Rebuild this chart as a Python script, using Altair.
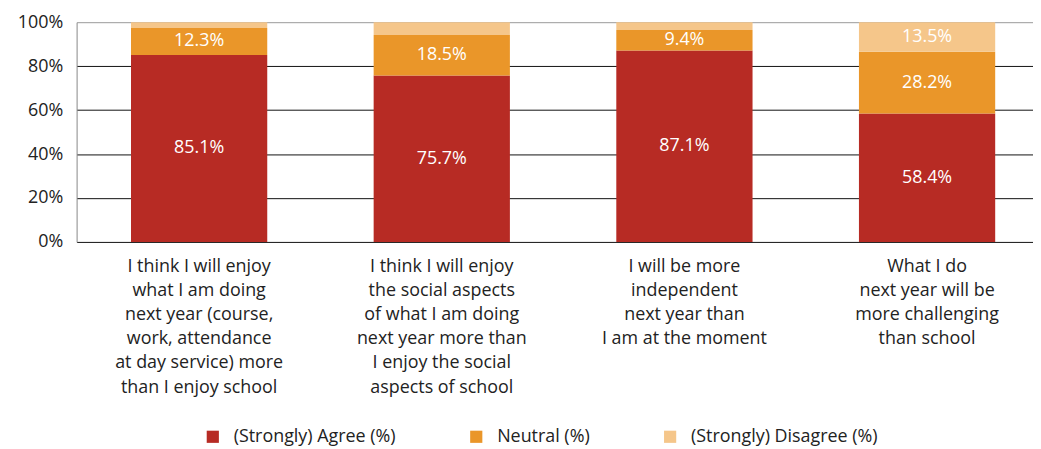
import altair as alt
import pandas as pd

categories = [
    "I think I will enjoy|what I am doing|next year (course,|work, attendance|at day service) more|than I enjoy school",
    "I think I will enjoy|the social aspects|of what I am doing|next year more than|I enjoy the social|aspects of school",
    "I will be more|independent|next year than|I am at the moment",
    "What I do|next year will be|more challenging|than school",
]
series = ["(Strongly) Agree (%)", "Neutral (%)", "(Strongly) Disagree (%)"]
agree = [85.1, 75.7, 87.1, 58.4]
neutral = [12.3, 18.5, 9.4, 28.2]
disagree = [2.6, 5.8, 3.5, 13.5]
colors = ["#B72B24", "#EA9629", "#F5C68A"]

rows = []
for i, c in enumerate(categories):
    for j, (s, vals) in enumerate(zip(series, [agree, neutral, disagree])):
        rows.append({"cat": c, "series": s, "value": vals[i], "order": j})
df = pd.DataFrame(rows)

FONT = "Open Sans"
FS = 18

x = alt.X(
    "cat:N",
    sort=categories,
    title=None,
    scale=alt.Scale(paddingInner=0.4385, paddingOuter=0.19, align=0.59),
    axis=alt.Axis(
        labelExpr="split(datum.label, '|')",
        labelAngle=0,
        labelFontSize=FS,
        labelLineHeight=24.2,
        labelPadding=16,
        labelColor="#222222",
        labelFont=FONT,
        ticks=False,
        domain=False,
        labelLimit=300,
    ),
)

bars = alt.Chart(df).mark_bar().encode(
    x=x,
    y=alt.Y(
        "value:Q",
        stack="zero",
        title=None,
        scale=alt.Scale(domain=[0, 100], clamp=True, nice=False),
        axis=alt.Axis(
            values=[0, 20, 40, 60, 80, 100],
            labelExpr="datum.value + '%'",
            labelFontSize=FS,
            labelFont=FONT,
            labelColor="#222222",
            labelPadding=14,
            ticks=False,
            domain=True,
            domainColor="#888888",
            grid=True,
            gridColor=alt.condition("datum.value == 100", alt.value("#999999"), alt.value("#111111")),
            gridWidth=1,
        ),
    ),
    color=alt.Color(
        "series:N",
        sort=series,
        scale=alt.Scale(domain=series, range=colors),
        legend=alt.Legend(
            title=None,
            orient="none",
            direction="horizontal",
            legendX=128,
            legendY=408,
            symbolType="square",
            symbolSize=150,
            symbolStrokeWidth=0,
            labelFontSize=FS,
            labelFont=FONT,
            labelColor="#222222",
            labelLimit=400,
            columnPadding=71,
            labelOffset=12,
        ),
    ),
    order=alt.Order("order:Q"),
)

labels = alt.Chart(df).transform_window(
    cum="sum(value)", groupby=["cat"], sort=[alt.SortField("order")]
).transform_calculate(
    mid="datum.cum - datum.value / 2",
    lbl="format(datum.value, '.1f') + '%'",
).transform_filter("datum.value >= 9").mark_text(
    color="white", fontSize=FS, font=FONT
).encode(
    x=alt.X("cat:N", sort=categories),
    y=alt.Y("mid:Q"),
    text="lbl:N",
)

chart = (
    alt.layer(bars, labels)
    .properties(
        width=962,
        height=221,
        autosize=alt.AutoSizeParams(type="none"),
        padding={"left": 69, "top": 13, "right": 0, "bottom": 206},
    )
    .configure_view(stroke=None)
)

chart.save("out.html", embed_options={"renderer": "svg", "actions": False})
